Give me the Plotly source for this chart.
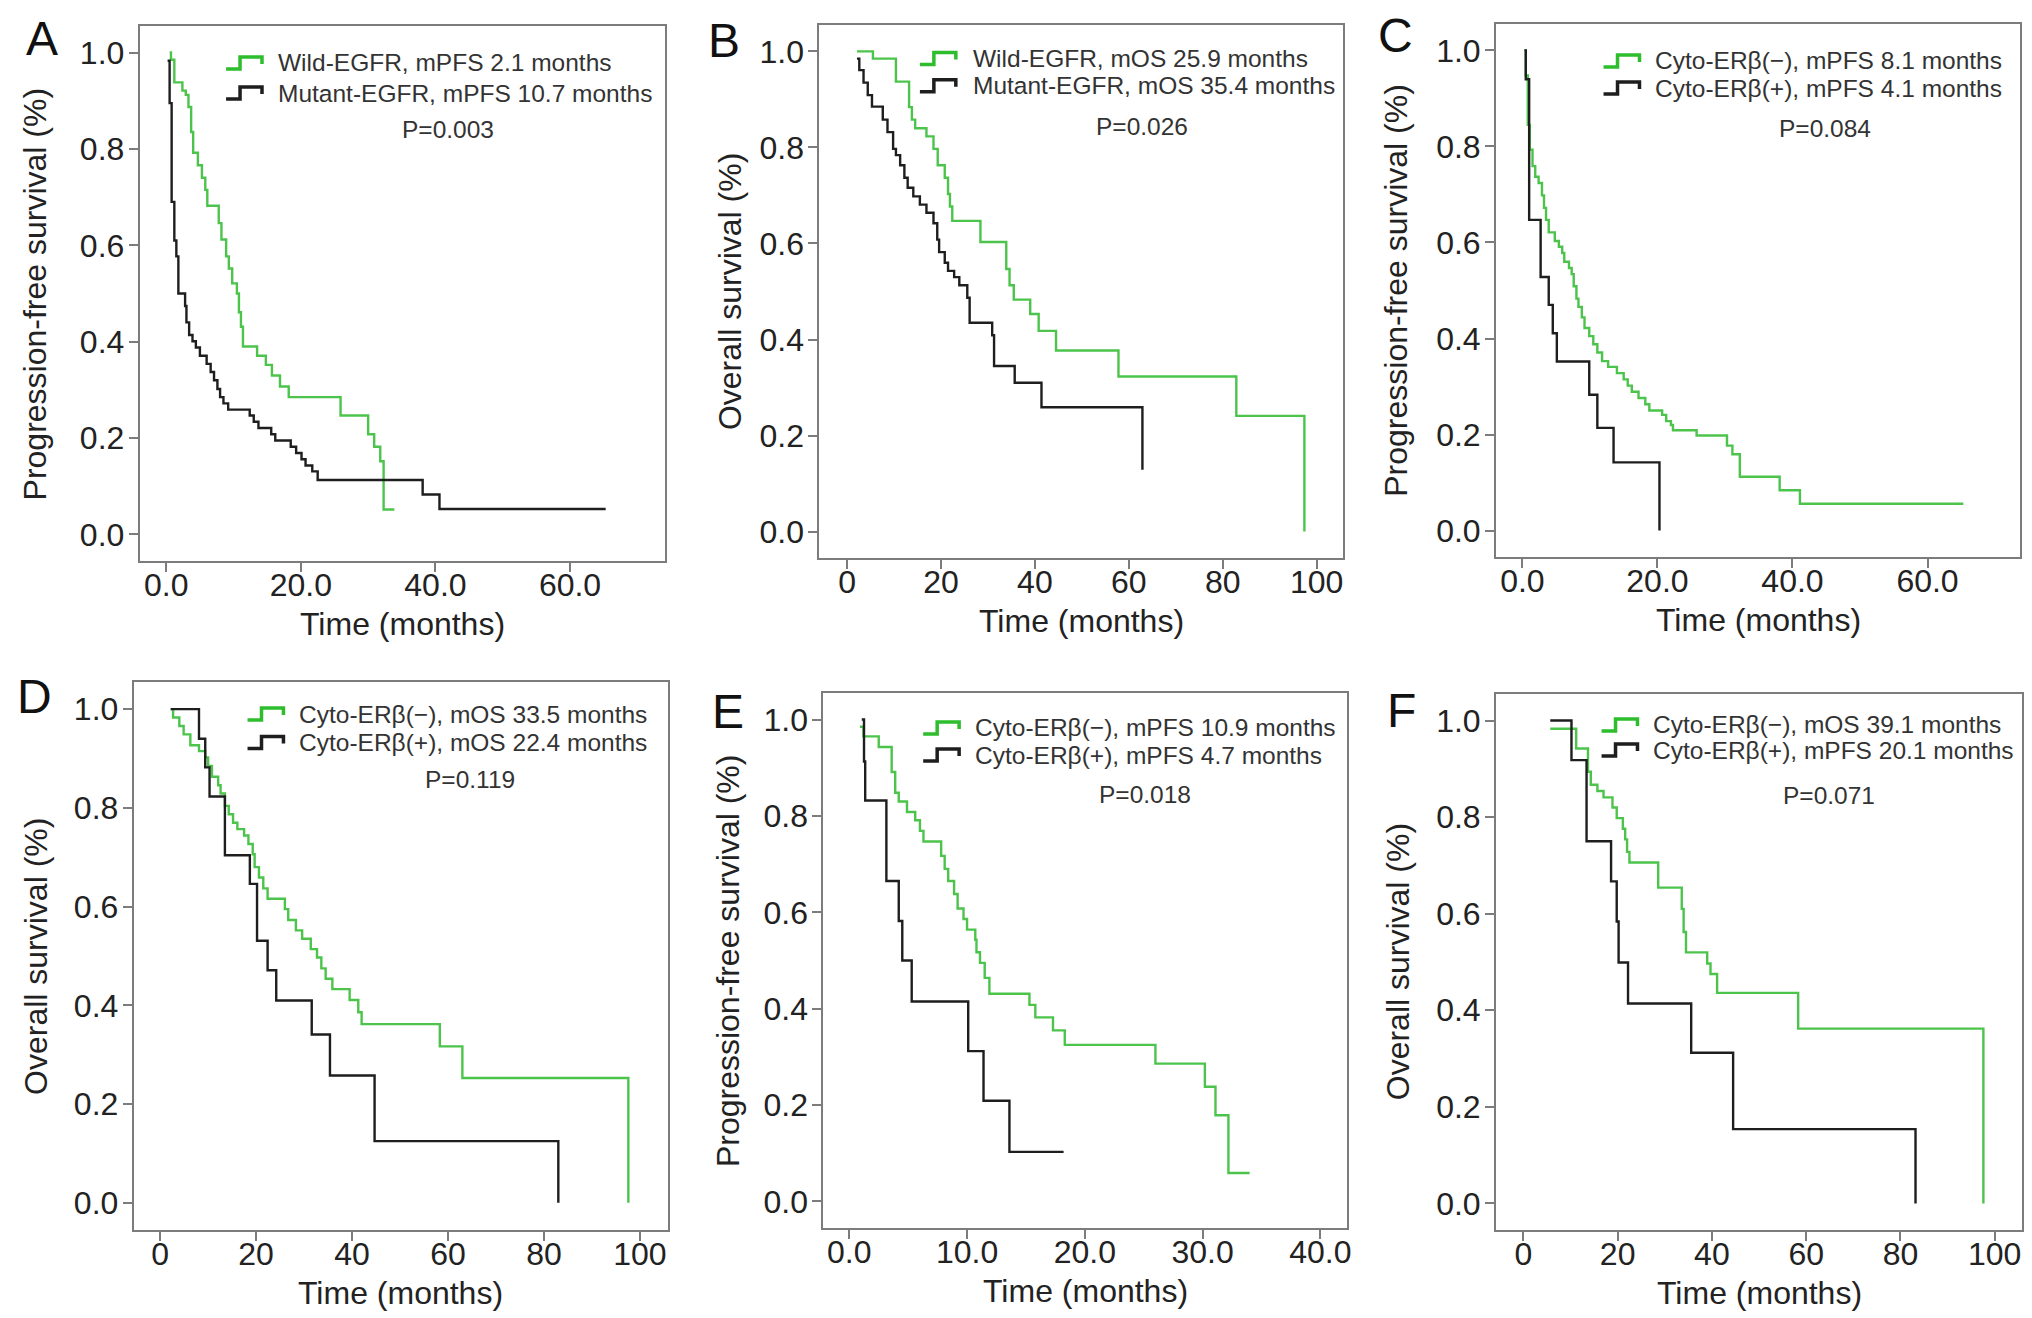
import plotly.graph_objects as go

# ---------------- data ----------------
A_WILD_T = [0.5, 0.7, 1.2, 2.4, 2.9, 3.3, 3.7, 4.0, 4.7, 5.3, 5.8, 6.1, 7.8, 8.2, 8.9, 9.3, 9.8, 10.5, 10.8, 11.1, 11.4,
            13.5, 14.8, 15.7, 16.9, 18.2, 25.9, 30.0, 30.9, 31.8, 32.3, 33.9]
A_WILD_S = [1.0, 0.985, 0.938, 0.921, 0.912, 0.887, 0.835, 0.792, 0.766, 0.74, 0.715, 0.682, 0.646, 0.612, 0.577, 0.552,
            0.521, 0.5, 0.461, 0.431, 0.39, 0.371, 0.352, 0.33, 0.307, 0.285, 0.247, 0.208, 0.182, 0.152, 0.052, 0.052]
A_MUT_T = [0.2, 0.5, 0.8, 1.2, 1.5, 1.8, 2.8, 3.0, 3.4, 3.9, 4.4, 5.0, 6.0, 6.6, 7.1, 7.6, 8.0, 8.5, 9.2, 12.4, 13.0,
           13.7, 15.6, 16.2, 18.5, 19.3, 20.1, 20.7, 21.7, 22.5, 38.1, 40.6, 65.3]
A_MUT_S = [0.983, 0.895, 0.69, 0.61, 0.577, 0.5, 0.474, 0.44, 0.414, 0.401, 0.388, 0.371, 0.354, 0.337, 0.32, 0.302,
           0.285, 0.272, 0.259, 0.247, 0.234, 0.221, 0.208, 0.195, 0.182, 0.169, 0.156, 0.143, 0.131, 0.113, 0.083,
           0.053, 0.053]

B_WILD_T = [2.1, 5.5, 10.4, 13.2, 13.8, 14.5, 16.9, 18.4, 19.3, 20.8, 21.5, 21.9, 22.4, 28.4, 33.9, 34.6, 35.5, 39.0,
            40.8, 44.5, 57.8, 82.9, 97.4]
B_WILD_S = [1.0, 0.985, 0.937, 0.884, 0.858, 0.84, 0.823, 0.797, 0.763, 0.737, 0.703, 0.677, 0.647, 0.603, 0.547, 0.513,
            0.483, 0.453, 0.418, 0.377, 0.323, 0.241, 0.0]
B_MUT_T = [2.1, 2.6, 3.5, 4.4, 5.3, 7.6, 8.6, 9.8, 10.4, 11.3, 12.2, 12.9, 14.1, 15.5, 16.9, 18.4, 19.2, 19.6, 20.8,
           21.5, 22.8, 23.9, 25.6, 26.1, 30.9, 31.3, 35.7, 41.4, 62.9]
B_MUT_S = [0.985, 0.961, 0.935, 0.909, 0.885, 0.858, 0.832, 0.797, 0.784, 0.763, 0.737, 0.716, 0.698, 0.681, 0.664,
           0.642, 0.608, 0.582, 0.56, 0.543, 0.53, 0.513, 0.487, 0.435, 0.409, 0.345, 0.31, 0.259, 0.129]

C_NEG_T = [0.3, 0.5, 0.8, 1.1, 1.5, 1.9, 2.4, 2.9, 3.2, 3.5, 3.9, 4.8, 5.4, 5.9, 6.2, 6.9, 7.3, 7.6, 8.0, 8.3, 8.8, 9.2,
           9.9, 10.5, 11.1, 11.8, 12.7, 14.0, 15.0, 15.6, 16.2, 17.2, 18.2, 18.8, 20.7, 21.3, 22.0, 22.3, 25.8, 30.3,
           31.1, 32.2, 38.1, 41.1, 65.3]
C_NEG_S = [1.0, 0.948, 0.845, 0.793, 0.759, 0.737, 0.724, 0.698, 0.672, 0.647, 0.621, 0.603, 0.591, 0.578, 0.56, 0.547,
           0.534, 0.509, 0.483, 0.466, 0.444, 0.422, 0.405, 0.388, 0.371, 0.353, 0.341, 0.328, 0.315, 0.302, 0.289,
           0.276, 0.263, 0.25, 0.241, 0.228, 0.22, 0.209, 0.198, 0.177, 0.159, 0.112, 0.084, 0.056, 0.056]
C_POS_T = [0.3, 0.5, 1.0, 2.7, 3.9, 4.5, 5.1, 9.9, 11.1, 13.5, 20.3]
C_POS_S = [1.0, 0.94, 0.647, 0.528, 0.47, 0.411, 0.352, 0.283, 0.214, 0.142, 0.0]

D_NEG_T = [2.2, 2.7, 4.0, 4.9, 6.3, 8.1, 9.4, 10.0, 10.8, 12.1, 12.6, 13.5, 14.3, 15.2, 16.1, 17.5, 18.4, 19.3, 19.7,
           20.6, 21.5, 22.4, 26.0, 26.7, 28.3, 29.6, 31.4, 32.7, 33.6, 34.5, 35.9, 39.5, 41.3, 42.0, 58.3, 63.0, 97.6]
D_NEG_S = [1.0, 0.983, 0.966, 0.949, 0.927, 0.915, 0.902, 0.885, 0.863, 0.846, 0.829, 0.804, 0.787, 0.77, 0.757, 0.744,
           0.727, 0.706, 0.68, 0.659, 0.637, 0.616, 0.595, 0.573, 0.552, 0.535, 0.514, 0.497, 0.475, 0.454, 0.433,
           0.411, 0.386, 0.362, 0.317, 0.253, 0.0]
D_POS_T = [2.2, 8.1, 9.4, 10.3, 13.5, 18.7, 20.2, 22.4, 24.2, 31.6, 35.4, 44.7, 83.0]
D_POS_S = [1.0, 0.94, 0.882, 0.823, 0.704, 0.646, 0.531, 0.471, 0.41, 0.341, 0.258, 0.125, 0.0]

E_NEG_T = [0.9, 1.2, 2.5, 3.6, 3.9, 4.2, 4.9, 5.6, 6.0, 6.3, 7.8, 8.1, 8.4, 8.9, 9.2, 9.7, 10.0, 10.7, 10.8, 11.1,
           11.5, 11.9, 15.3, 15.8, 17.3, 18.3, 26.0, 30.2, 31.1, 32.2, 34.0]
E_NEG_S = [0.985, 0.965, 0.943, 0.891, 0.848, 0.83, 0.808, 0.791, 0.769, 0.747, 0.717, 0.69, 0.665, 0.638, 0.608,
           0.586, 0.564, 0.543, 0.517, 0.495, 0.464, 0.431, 0.408, 0.382, 0.355, 0.325, 0.286, 0.238, 0.179, 0.059,
           0.059]
E_POS_T = [1.06, 1.25, 1.35, 3.15, 4.2, 4.5, 5.3, 10.1, 11.4, 13.6, 18.2]
E_POS_S = [1.0, 0.913, 0.832, 0.665, 0.582, 0.5, 0.415, 0.312, 0.209, 0.103, 0.103]

F_NEG_T = [5.7, 11.2, 13.7, 14.3, 15.7, 17.0, 18.9, 19.8, 21.1, 21.6, 22.0, 22.5, 28.6, 33.6, 34.0, 34.5, 39.0, 39.7,
           41.1, 58.3, 97.6]
F_NEG_S = [0.983, 0.942, 0.894, 0.867, 0.854, 0.841, 0.82, 0.798, 0.776, 0.754, 0.728, 0.706, 0.654, 0.61, 0.562, 0.52,
           0.497, 0.475, 0.436, 0.362, 0.0]
F_POS_T = [5.7, 10.2, 13.4, 18.6, 19.8, 20.2, 22.2, 35.6, 44.5, 83.2]
F_POS_S = [1.0, 0.918, 0.75, 0.667, 0.584, 0.499, 0.414, 0.312, 0.154, 0.0]

PANEL_LETTERS = ["A", "B", "C", "D", "E", "F"]
Y_TITLES = ["Progression-free survival (%)", "Overall survival (%)", "Progression-free survival (%)",
            "Overall survival (%)", "Progression-free survival (%)", "Overall survival (%)"]
X_TITLE = "Time (months)"
LEGEND_LABELS = [
    ["Wild-EGFR, mPFS 2.1 months", "Mutant-EGFR, mPFS 10.7 months"],
    ["Wild-EGFR, mOS 25.9 months", "Mutant-EGFR, mOS 35.4 months"],
    ["Cyto-ERβ(−), mPFS 8.1 months", "Cyto-ERβ(+), mPFS 4.1 months"],
    ["Cyto-ERβ(−), mOS 33.5 months", "Cyto-ERβ(+), mOS 22.4 months"],
    ["Cyto-ERβ(−), mPFS 10.9 months", "Cyto-ERβ(+), mPFS 4.7 months"],
    ["Cyto-ERβ(−), mOS 39.1 months", "Cyto-ERβ(+), mPFS 20.1 months"],
]
P_VALUES = ["P=0.003", "P=0.026", "P=0.084", "P=0.119", "P=0.018", "P=0.071"]
X_TICKS = [[0, 20, 40, 60], [0, 20, 40, 60, 80, 100], [0, 20, 40, 60],
           [0, 20, 40, 60, 80, 100], [0, 10, 20, 30, 40], [0, 20, 40, 60, 80, 100]]
X_TICK_FMT = [".1f", "d", ".1f", "d", ".1f", "d"]
Y_TICKS = [0.0, 0.2, 0.4, 0.6, 0.8, 1.0]

CURVES = [
    ((A_WILD_T, A_WILD_S), (A_MUT_T, A_MUT_S)),
    ((B_WILD_T, B_WILD_S), (B_MUT_T, B_MUT_S)),
    ((C_NEG_T, C_NEG_S), (C_POS_T, C_POS_S)),
    ((D_NEG_T, D_NEG_S), (D_POS_T, D_POS_S)),
    ((E_NEG_T, E_NEG_S), (E_POS_T, E_POS_S)),
    ((F_NEG_T, F_NEG_S), (F_POS_T, F_POS_S)),
]

# ---------------- layout / style ----------------
W, H = 2032, 1318
FONT = "Liberation Sans, Arial, Helvetica, sans-serif"
GREEN = "#4cc44c"
GREEN_ICON = "#2dbd2d"
BLACK = "#1e1e1e"
FRAME = "#7c7c7c"
TEXT = "#222222"

# plot boxes in pixels: x0, x1, y0(top), y1(bottom)
BOXES = [(132, 658, 18, 553), (813, 1338, 17, 550), (1491, 2016, 16, 549),
         (126, 661, 674, 1222), (817, 1342, 685, 1220), (1491, 2018, 686, 1222)]
X_RANGES = [[-3.94, 74.07], [-5.9, 105.7], [-3.9, 73.7], [-5.5, 105.8], [-2.2, 42.3], [-5.8, 105.8]]
Y_RANGE = [-0.055, 1.055]
# legend: icon x0, text x, row1 y, row2 y
LEG = [(218.5, 269, 55, 85), (913.7, 964.7, 50.5, 77.8), (1598.7, 1648.7, 53, 80),
       (240, 290, 706, 734.5), (917, 966.5, 720, 747), (1596.7, 1646.7, 717, 742)]
PPOS = [(441, 121), (1136, 118), (1821, 120), (463, 771), (1139, 786), (1825, 787)]
LETTER_POS = [(34, 31), (717.5, 32.5), (1390, 28), (27, 688), (721, 703), (1396, 702)]
YTITLE_X = [27, 723, 1390, 28, 721, 1393]
XTITLE_OFFSET = 63


def px(x):
    return x / W


def py(y):
    return 1 - y / H


fig = go.Figure()
shapes = []
annotations = []

for i in range(6):
    n = i + 1
    xn = "x" if n == 1 else f"x{n}"
    yn = "y" if n == 1 else f"y{n}"
    x0, x1, y0, y1 = BOXES[i]
    (gt, gs), (bt, bs) = CURVES[i]
    fig.add_trace(go.Scatter(x=gt, y=gs, mode="lines", xaxis=xn, yaxis=yn,
                             line=dict(shape="hv", color=GREEN, width=2.4),
                             name=LEGEND_LABELS[i][0], showlegend=False))
    fig.add_trace(go.Scatter(x=bt, y=bs, mode="lines", xaxis=xn, yaxis=yn,
                             line=dict(shape="hv", color=BLACK, width=2.4),
                             name=LEGEND_LABELS[i][1], showlegend=False))

    common = dict(showline=True, mirror=True, linecolor=FRAME, linewidth=2,
                  ticks="outside", ticklen=9, tickwidth=2, tickcolor=FRAME,
                  showgrid=False, zeroline=False,
                  tickfont=dict(family=FONT, size=32, color=TEXT))
    fig.layout[f"xaxis{'' if n == 1 else n}"] = dict(
        common, domain=[px(x0), px(x1)], range=X_RANGES[i], anchor=yn,
        tickvals=X_TICKS[i], tickformat=X_TICK_FMT[i], ticklabelstandoff=-14)
    fig.layout[f"yaxis{'' if n == 1 else n}"] = dict(
        common, domain=[py(y1), py(y0)], range=Y_RANGE, anchor=xn,
        tickvals=Y_TICKS, tickformat=".1f", ticklabelstandoff=-2)

    # axis titles
    annotations.append(dict(x=px((x0 + x1) / 2), y=py(y1 + XTITLE_OFFSET), xref="paper", yref="paper",
                            text=X_TITLE, showarrow=False, xanchor="center", yanchor="middle",
                            font=dict(family=FONT, size=32, color=TEXT)))
    annotations.append(dict(x=px(YTITLE_X[i]), y=py((y0 + y1) / 2), xref="paper", yref="paper",
                            text=Y_TITLES[i], textangle=-90, showarrow=False,
                            xanchor="center", yanchor="middle",
                            font=dict(family=FONT, size=32, color=TEXT)))

    # legend (step icons + labels)
    ix, tx, r1, r2 = LEG[i]
    for row_y, col in ((r1, GREEN_ICON), (r2, BLACK)):
        path = (f"M {px(ix)} {py(row_y + 6)} L {px(ix + 14)} {py(row_y + 6)} "
                f"L {px(ix + 14)} {py(row_y - 6)} L {px(ix + 36)} {py(row_y - 6)} "
                f"L {px(ix + 36)} {py(row_y + 1)}")
        shapes.append(dict(type="path", xref="paper", yref="paper", path=path,
                           line=dict(color=col, width=3.5)))
    for row_y, label in zip((r1, r2), LEGEND_LABELS[i]):
        annotations.append(dict(x=px(tx), y=py(row_y), xref="paper", yref="paper", text=label,
                                showarrow=False, xanchor="left", yanchor="middle",
                                font=dict(family=FONT, size=24.5, color="#333333")))
    pxp, pyp = PPOS[i]
    annotations.append(dict(x=px(pxp), y=py(pyp), xref="paper", yref="paper", text=P_VALUES[i],
                            showarrow=False, xanchor="center", yanchor="middle",
                            font=dict(family=FONT, size=24.5, color="#333333")))
    lx, ly = LETTER_POS[i]
    annotations.append(dict(x=px(lx), y=py(ly), xref="paper", yref="paper", text=PANEL_LETTERS[i],
                            showarrow=False, xanchor="center", yanchor="middle",
                            font=dict(family=FONT, size=48, color="#111111")))

fig.update_layout(width=W, height=H, margin=dict(l=0, r=0, t=0, b=0),
                  paper_bgcolor="white", plot_bgcolor="white",
                  shapes=shapes, annotations=annotations, showlegend=False,
                  font=dict(family=FONT, color=TEXT))

fig.write_html("out.html")
